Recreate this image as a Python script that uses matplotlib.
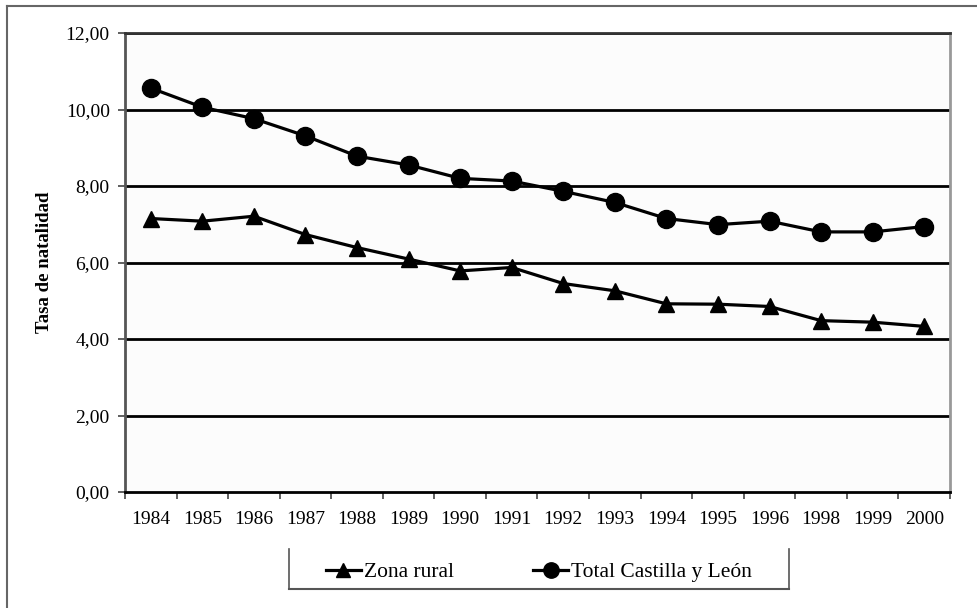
import matplotlib
matplotlib.use("Agg")
import matplotlib.pyplot as plt
from matplotlib.lines import Line2D
import numpy as np

years = ["1984", "1985", "1986", "1987", "1988", "1989", "1990", "1991",
         "1992", "1993", "1994", "1995", "1996", "1998", "1999", "2000"]
zona_rural = [7.15, 7.08, 7.21, 6.73, 6.39, 6.09, 5.78, 5.87,
              5.45, 5.26, 4.92, 4.91, 4.85, 4.48, 4.44, 4.33]
total_cyl = [10.56, 10.06, 9.76, 9.31, 8.78, 8.55, 8.20, 8.13,
             7.86, 7.57, 7.15, 6.99, 7.08, 6.80, 6.80, 6.94]
y_ticks = [0, 2, 4, 6, 8, 10, 12]
y_tick_labels = ["0,00", "2,00", "4,00", "6,00", "8,00", "10,00", "12,00"]

plt.rcParams['font.family'] = ['Liberation Serif', 'DejaVu Serif']

W, H = 978, 608
fig = plt.figure(figsize=(W / 100, H / 100), dpi=100)
fig.patch.set_facecolor('white')

ax = fig.add_axes([125 / W, 1 - 492 / H, 825 / W, 459 / H])
ax.set_facecolor('#fcfcfc')

x = np.arange(len(years))
ax.set_xlim(-0.5, len(years) - 0.5)
ax.set_ylim(0, 12)

for v in y_ticks[1:]:
    ax.axhline(v, color='black', lw=2.0, zorder=1)

l1, = ax.plot(x, zona_rural, color='black', lw=2.3, marker='^', markersize=12,
              label='Zona rural', zorder=3)
l2, = ax.plot(x, total_cyl, color='black', lw=2.3, marker='o', markersize=13,
              label='Total Castilla y León', zorder=3)

ax.set_yticks(y_ticks)
ax.set_yticklabels(y_tick_labels, fontsize=14)
ax.set_xticks(x)
ax.set_xticklabels(years, fontsize=14)
ax.tick_params(axis='x', which='major', length=0, pad=14)
ax.set_xticks(np.arange(-0.5, len(years)), minor=True)
ax.tick_params(axis='x', which='minor', length=5, width=1.2, color='#444444')
ax.tick_params(axis='y', length=5, width=1.2, color='#444444', pad=6)

ax.spines['left'].set_color('#555555')
ax.spines['left'].set_linewidth(2)
ax.spines['right'].set_color('#999999')
ax.spines['right'].set_linewidth(2)
ax.spines['top'].set_color('#333333')
ax.spines['top'].set_linewidth(2)
ax.spines['bottom'].set_color('black')
ax.spines['bottom'].set_linewidth(2)

ax.set_ylabel('Tasa de natalidad', fontsize=13.5, fontweight='bold')
ax.yaxis.set_label_coords((53 - 125) / 825, 0.5)

# legend
leg = fig.legend(handles=[l1, l2], loc='center', ncol=2, frameon=False,
                 bbox_to_anchor=(539 / W, 1 - 572 / H), fontsize=15.5,
                 handlelength=1.6, handletextpad=0.15, columnspacing=3.7,
                 markerscale=0.85)

# legend box (left, right, bottom edges)
def fx(px):
    return px / W

def fy(py):
    return 1 - py / H

fig.add_artist(Line2D([fx(289), fx(289)], [fy(549), fy(589)], color='#555555', lw=1.2))
fig.add_artist(Line2D([fx(789), fx(789)], [fy(549), fy(589)], color='#555555', lw=1.2))
fig.add_artist(Line2D([fx(289), fx(789)], [fy(589), fy(589)], color='#555555', lw=1.5))

# figure border (left and top)
fig.add_artist(Line2D([fx(7), fx(7)], [fy(6), fy(608)], color='#666666', lw=1.5))
fig.add_artist(Line2D([fx(7), fx(978)], [fy(6), fy(6)], color='#666666', lw=1.5))

fig.savefig('out.png', dpi=100)
